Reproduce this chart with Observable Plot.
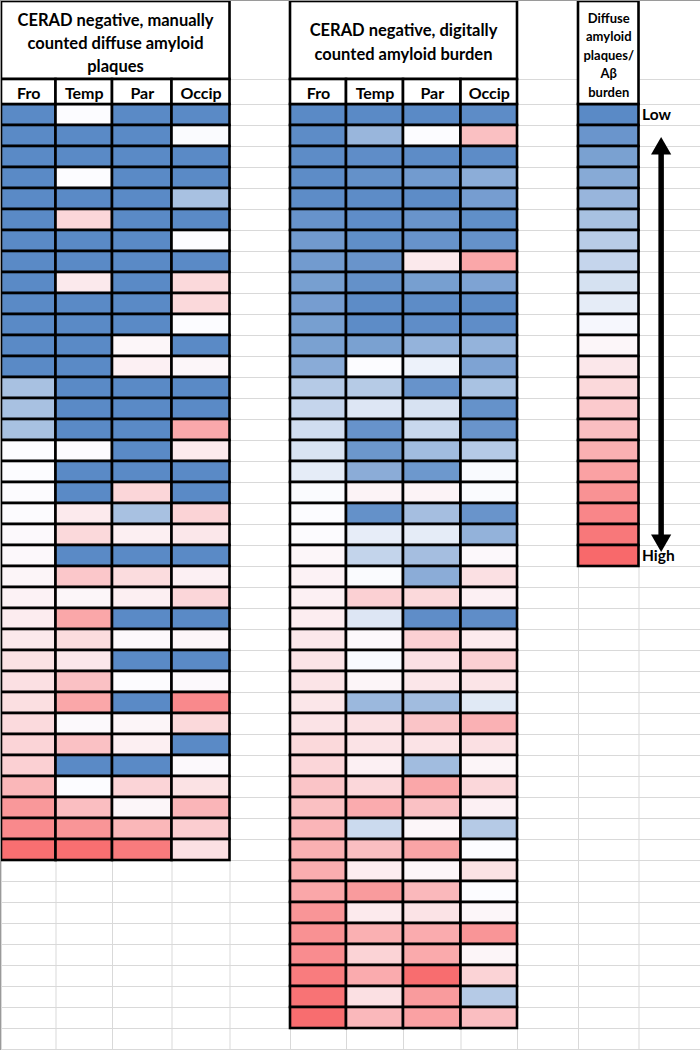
<!DOCTYPE html>
<html>
<head>
<meta charset="utf-8">
<script src="https://cdn.jsdelivr.net/npm/d3@7"></script>
<script src="https://cdn.jsdelivr.net/npm/@observablehq/plot@0.6"></script>
<style>
  body { margin: 0; background: #fff; }
  #chart svg { display: block; }
</style>
</head>
<body>
<div id="chart"></div>
<script>
// ---------- data (0 = low / blue, 50 = middle / white, 100 = high / red) ----------
const regions = ["Fro", "Temp", "Par", "Occip"];

const manualFro   = [0,0,0,0,0,0,0,0,0,0,0,0,0,24,24,24,50,50,50.5,50.5,51,51.5,52.5,53.5,55.5,56.5,59,59.5,60,61.5,63.5,65,73.5,84,89,98];
const manualTemp  = [50,0,0,50,0,63,0,0,56.5,0,0,0,0,0,0,0,50.5,0,0,56,62,0,68,52,79,61,57,70,79,51,70,0,50,71,85,98];
const manualPar   = [0,0,0,0,0,0,0,0,0,0,0,52,54,0,0,0,0,0,63,24,54.5,0,61,54.5,0,51.5,0,50.5,0,52.5,54.5,0,63.5,52,73.5,94];
const manualOccip = [0,49.5,0,0,24,0,50,0,62,62,50,0,52,0,0,78.5,56,0,0,64,57,0,54,63,0,52.5,0,51,89,62,0,51,59,74,66,59.5];

const digitalFro   = [0,1,1,1,1,4,7,7.5,9,8.5,9,10,14.5,28,33,36.5,39,43,49.5,50,50.5,52,53.5,54,55,57,58.5,58,57.5,58.5,62,63,69,70.5,74,76,77,79,85,86.5,88,93.5,96.5,98.5];
const digitalTemp  = [0,19.5,1.5,3,1,1.5,2,4.5,3,1,1,10,50,28.5,40.5,4,5.5,15,53,3,43.5,32.5,49.5,65,40.5,51.5,49,52.5,20,59.5,58.5,54,62.5,77.5,35,71,55,83,56,76,64,77.5,59.5,73];
const digitalPar   = [0,50,1,7.5,1,4.5,4,56.5,9,1,1.5,18,45.5,4,38.5,34,22,6,53,23,43,23,15,62,1.5,65,59.5,57.5,22,69,58.5,22,79,70,52,80,52,73,58.5,77.5,78,98.5,83,81];
const digitalOccip = [1,70.5,1,15.5,8.5,2,3.5,79,11,1,1.5,18,11,24.5,3.5,4.5,28,49,49.5,4.5,17.5,51.5,59.5,54,1.5,56,65,58,41.5,75.5,59.5,52.5,62.5,54,28,50,59,50,52,85,52.5,64,28,71];

const legendSteps = [0,5,10,14,19,24,29,33,38,43,48,52,57,62,67,71,76,81,86,90,95,100];
const legendEnds  = ["Low", "High"];

const manualTitle  = "CERAD negative, manually\ncounted diffuse amyloid\nplaques";
const digitalTitle = "CERAD negative, digitally\ncounted amyloid burden";
const legendTitle  = "Diffuse\namyloid\nplaques/\nAβ\nburden";

// ---------- layout (spreadsheet columns / rows) ----------
const colEdges = [1, 55.5, 112, 171.5, 229.5, 290, 346, 403, 460.5, 517, 578, 638.5, 700];
const manualStart = 0, digitalStart = 5, legendCol = 10;
const nRows = 45;

const cells = [];
function addTable(series, start) {
  series.forEach((vals, j) => vals.forEach((v, i) => cells.push({c: start + j, r: i, value: v})));
}
addTable([manualFro, manualTemp, manualPar, manualOccip], manualStart);
addTable([digitalFro, digitalTemp, digitalPar, digitalOccip], digitalStart);
addTable([legendSteps], legendCol);

const headerBoxes = [
  {x1: manualStart, x2: manualStart + 4, y1: -2, y2: -1},
  {x1: digitalStart, x2: digitalStart + 4, y1: -2, y2: -1},
  {x1: legendCol, x2: legendCol + 1, y1: -2, y2: 0},
  ...regions.map((_, j) => ({x1: manualStart + j, x2: manualStart + j + 1, y1: -1, y2: 0})),
  ...regions.map((_, j) => ({x1: digitalStart + j, x2: digitalStart + j + 1, y1: -1, y2: 0}))
];
const headerLabels = [
  ...regions.map((t, j) => ({x: manualStart + j + 0.5, text: t})),
  ...regions.map((t, j) => ({x: digitalStart + j + 0.5, text: t}))
];

const arrowX = legendCol + 1.36;
const arrowTop = 2.1, arrowBottom = legendSteps.length - 1.25;

const plot = Plot.plot({
  width: 700,
  height: 1050,
  margin: 0,
  x: {type: "linear", domain: d3.range(colEdges.length), range: colEdges, axis: null},
  y: {type: "linear", domain: [-2, -1, 0, nRows], range: [1, 79, 104, 1049], axis: null},
  color: {type: "linear", domain: [0, 50, 100], range: ["#5A8AC6", "#FCFCFF", "#F8696B"], interpolate: "rgb"},
  style: {fontFamily: "Lato, 'Open Sans', sans-serif", background: "white", color: "black"},
  marks: [
    // spreadsheet gridlines
    Plot.ruleX(d3.range(colEdges.length), {stroke: "#d9d9d9", strokeWidth: 1}),
    Plot.ruleY([-1, ...d3.range(nRows + 1)], {stroke: "#d9d9d9", strokeWidth: 1}),
    // heat cells
    Plot.rect(cells, {x1: "c", x2: d => d.c + 1, y1: "r", y2: d => d.r + 1, fill: "value", stroke: "black", strokeWidth: 2.6}),
    // header boxes
    Plot.rect(headerBoxes, {x1: "x1", x2: "x2", y1: "y1", y2: "y2", fill: "white", stroke: "black", strokeWidth: 2.6}),
    Plot.text([{x: manualStart + 2, text: manualTitle}], {x: "x", y: -1.5, dx: 3, dy: 1, text: "text", fontSize: 16.5, fontWeight: "bold", lineHeight: 1.4}),
    Plot.text([{x: digitalStart + 2, text: digitalTitle}], {x: "x", y: -1.5, text: "text", fontSize: 16.5, fontWeight: "bold", lineHeight: 1.45}),
    Plot.text([{x: legendCol + 0.5, text: legendTitle}], {x: "x", y: -2, text: "text", lineAnchor: "top", dy: 8, fontSize: 13, fontWeight: "bold", lineHeight: 1.43}),
    Plot.text(headerLabels, {x: "x", y: -0.5, dy: 1.5, text: "text", fontSize: 16, fontWeight: "bold"}),
    // Low / High
    Plot.text(legendEnds, {x: legendCol + 1, y: (d, i) => i === 0 ? 0.5 : legendSteps.length - 0.5, text: d => d, textAnchor: "start", dx: 3, fontSize: 15.5, fontWeight: "bold"}),
    // double-headed arrow
    Plot.link([{}], {x1: arrowX, x2: arrowX, y1: arrowTop, y2: arrowBottom, stroke: "black", strokeWidth: 5.5}),
    Plot.dot([{y: arrowTop, rot: 0}, {y: arrowBottom, rot: 180}], {x: arrowX, y: "y", rotate: "rot", symbol: "triangle", r: 7.5, fill: "black", stroke: "none"}),
    Plot.frame({stroke: "#9a9a9a", strokeWidth: 1})
  ]
});
document.getElementById("chart").appendChild(plot);
</script>
</body>
</html>
